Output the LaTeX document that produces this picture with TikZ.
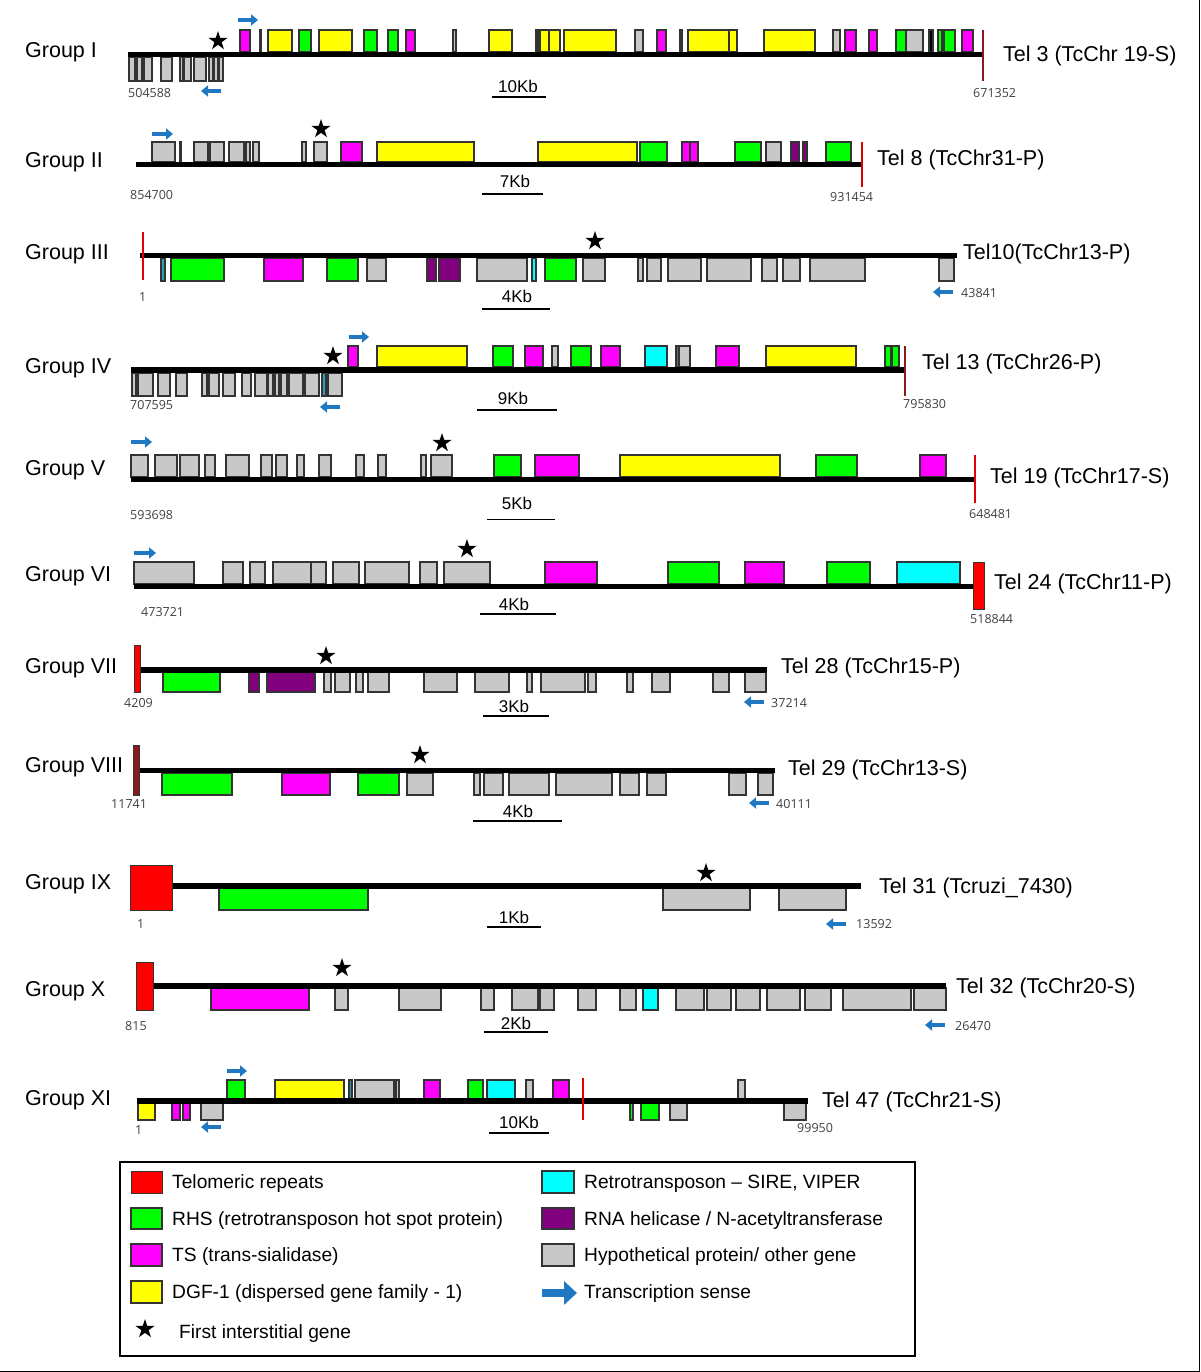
\documentclass[tikz,border=0pt]{standalone}
\usepackage{fontspec}
\setmainfont{Liberation Sans}
\newfontfamily\numfont{Open Sans}
\usetikzlibrary{arrows.meta,shapes.geometric}
\definecolor{telred}{HTML}{FF0000}
\definecolor{teldark}{HTML}{8B1A1A}
\definecolor{rhs}{HTML}{00FF00}
\definecolor{tsm}{HTML}{FF00FF}
\definecolor{dgf}{HTML}{FFFF00}
\definecolor{retro}{HTML}{00FFFF}
\definecolor{hel}{HTML}{800080}
\definecolor{hyp}{HTML}{C8C8C8}
\definecolor{dkg}{HTML}{2E6B2E}
\definecolor{tea}{HTML}{30A0B0}
\definecolor{senseblue}{HTML}{1F78C1}
\tikzset{
  chrom/.style={line width=5.5pt},
  gene/.style={draw=black!80, line width=1.1pt},
  telend/.style={line width=2pt},
  telbox/.style={draw=black!80, line width=1pt, fill=telred},
  grouplabel/.style={anchor=west, inner sep=0pt, yshift=-2pt, font=\fontsize{21.5}{24}\selectfont},
  tellabel/.style={anchor=west, inner sep=0pt, yshift=-2pt, font=\fontsize{21.5}{24}\selectfont},
  coordlabel/.style={anchor=west, inner sep=0pt, text=black!75, font=\numfont\fontsize{12.5}{14}\selectfont},
  kblabel/.style={inner sep=0pt, yshift=2pt, font=\fontsize{17}{20}\selectfont},
  kbbar/.style={line width=1.5pt},
  sense/.style={line width=4.5pt, draw=senseblue, -{Triangle[length=7pt,width=11pt]}},
  firststar/.style={star, star points=5, star point ratio=2.618, fill=black, inner sep=0pt, minimum size=20pt},
  legendtext/.style={anchor=west, inner sep=0pt, yshift=-2pt, font=\fontsize{19.2}{22}\selectfont}
}
\newcommand{\generow}[3]{\foreach \a/\b/\c in {#3} \draw[gene,fill=\c] (\a,#1) rectangle (\b,#2);}
\begin{document}
\begin{tikzpicture}[x=1pt,y=-1pt]
\useasboundingbox (0,0) rectangle (1200,1372);
\draw[line width=1pt] (1199,0) -- (1199,1371) -- (0,1371);

% Group I
\node[grouplabel] (g1) at (25,50) {Group I};
\generow{30}{52}{240/250/tsm, 259.5/261/hyp, 268/292/dgf, 299/311/rhs, 319/352/dgf, 364/377/rhs, 388/398/rhs, 406/415/tsm, 453/456/hyp, 489/512/dgf, 536/538/tsm, 540/550/dgf, 549/560/dgf, 564/616/dgf, 635/643/hyp, 657/666/tsm, 680/682/dkg, 688/729/dgf, 729/737/dgf, 764/815/dgf, 833/840/hyp, 845/856/tsm, 869/877/tsm, 896/906/rhs, 906/923/hyp, 929/933/black, 938/942/rhs, 944/955/rhs, 962/973/tsm}
\generow{57}{81}{129/135/hyp, 137/142/hyp, 144/152/hyp, 161/172/hyp, 180/183/hyp, 184/191/hyp, 194/206/hyp, 209/213/hyp, 214/218/hyp, 219/223/hyp}
\coordinate (c1a) at (128,54.5);
\coordinate (c1b) at (983,54.5);
\draw[chrom] (c1a) -- (c1b);
\draw[telend,teldark] (983,30) -- (983,81);
\node[tellabel] (t1) at (1003,54) {Tel 3 (TcChr 19-S)};
\node[coordlabel] (n1a) at (128,93) {504588};
\node[coordlabel] (n1b) at (973,93) {671352};
\node[kblabel] (k1) at (518,88) {10Kb};
\draw[kbbar] (492,97) -- (546,97);
\draw[sense] (238,20) -- (258,20);
\draw[sense] (221,91) -- (201,91);
\node[firststar] (s1) at (218,41) {};

% Group II
\node[grouplabel] (g2) at (25,160) {Group II};
\generow{142}{162}{152/175/hyp, 180/181/hyp, 194/208/hyp, 210/224/hyp, 229/244/hyp, 246/250/hyp, 253/259/hyp, 302/306/hyp, 314/327/hyp, 341/362/tsm, 377/474/dgf, 538/637/dgf, 640/667/rhs, 682/690/tsm, 690/698/tsm, 735/761/rhs, 766/781/hyp, 791/799/hel, 803/807/hel, 826/851/rhs}
\coordinate (c2a) at (136,164.5);
\coordinate (c2b) at (862,164.5);
\draw[chrom] (c2a) -- (c2b);
\draw[telend,telred!85!black] (862,142) -- (862,187);
\node[tellabel] (t2) at (877,158) {Tel 8 (TcChr31-P)};
\node[coordlabel] (n2a) at (130,195) {854700};
\node[coordlabel] (n2b) at (830,197) {931454};
\node[kblabel] (k2) at (515,183) {7Kb};
\draw[kbbar] (482,194) -- (543,194);
\draw[sense] (152,134) -- (173,134);
\node[firststar] (s2) at (321,129) {};

% Group III
\node[grouplabel] (g3) at (25,252) {Group III};
\generow{258}{281}{161/165/tea, 171/224/rhs, 264/303/tsm, 327/358/rhs, 367/386/hyp, 427/436/hel, 439/460/hel, 477/527/hyp, 532/536/retro, 545/576/rhs, 583/605/hyp, 638/643/hyp, 647/661/hyp, 668/701/hyp, 707/751/hyp, 762/777/hyp, 783/800/hyp, 810/865/hyp, 939/954/hyp}
\coordinate (c3a) at (140,255.5);
\coordinate (c3b) at (957,255.5);
\draw[chrom] (c3a) -- (c3b);
\draw[telend,telred!90!black] (143,232) -- (143,280);
\node[tellabel] (t3) at (963,252) {Tel10(TcChr13-P)};
\node[coordlabel] (n3a) at (139,297) {1};
\node[coordlabel] (n3b) at (961,293) {43841};
\node[kblabel] (k3) at (517,298) {4Kb};
\draw[kbbar] (482,309) -- (550,309);
\draw[sense] (953,292) -- (933,292);
\node[firststar] (s3) at (595,241) {};

% Group IV
\node[grouplabel] (g4) at (25,366) {Group IV};
\generow{346}{367}{348/358/tsm, 377/467/dgf, 493/513/rhs, 525/543/tsm, 552/558/hyp, 571/591/rhs, 601/620/tsm, 645/667/retro, 676/679/black!60, 679/690/hyp, 716/739/tsm, 766/856/dgf, 885/891/rhs, 892/899/rhs}
\generow{373}{396}{132/136/hyp, 138/153/hyp, 158/170/hyp, 176/187/hyp, 202/207/hyp, 209/219/hyp, 223/235/hyp, 242/251/hyp, 255/267/hyp, 268/273/hyp, 275/279/hyp, 281/287/hyp, 289/303/hyp, 305/319/hyp, 322/326/tea, 328/342/hyp}
\coordinate (c4a) at (131,370);
\coordinate (c4b) at (905,370);
\draw[chrom] (c4a) -- (c4b);
\draw[telend,teldark] (905,346) -- (905,396);
\node[tellabel] (t4) at (922,362) {Tel 13 (TcChr26-P)};
\node[coordlabel] (n4a) at (130,405) {707595};
\node[coordlabel] (n4b) at (903,404) {795830};
\node[kblabel] (k4) at (513,400) {9Kb};
\draw[kbbar] (477,410) -- (557,410);
\draw[sense] (349,337) -- (369,337);
\draw[sense] (340,407) -- (320,407);
\node[firststar] (s4) at (333,356) {};

% Group V
\node[grouplabel] (g5) at (25,468) {Group V};
\generow{455}{477}{131/148/hyp, 155/177/hyp, 180/199/hyp, 205/215/hyp, 226/249/hyp, 261/272/hyp, 276/287/hyp, 297/304/hyp, 319/331/hyp, 356/364/hyp, 378/386/hyp, 421/426/hyp, 431/452/hyp, 494/521/rhs, 535/579/tsm, 620/780/dgf, 816/857/rhs, 920/946/tsm}
\coordinate (c5a) at (131,479.5);
\coordinate (c5b) at (975,479.5);
\draw[chrom] (c5a) -- (c5b);
\draw[telend,telred!90!black] (975,455) -- (975,503);
\node[tellabel] (t5) at (990,476) {Tel 19 (TcChr17-S)};
\node[coordlabel] (n5a) at (130,515) {593698};
\node[coordlabel] (n5b) at (969,514) {648481};
\node[kblabel] (k5) at (517,505) {5Kb};
\draw[line width=1pt] (487,519) -- (555,519);
\draw[sense] (131,442) -- (152,442);
\node[firststar] (s5) at (442,443) {};

% Group VI
\node[grouplabel] (g6) at (25,574) {Group VI};
\generow{562}{584}{134/194/hyp, 223/243/hyp, 250/265/hyp, 273/311/hyp, 311/326/hyp, 333/359/hyp, 365/409/hyp, 420/437/hyp, 444/490/hyp, 545/597/tsm, 668/719/rhs, 745/784/tsm, 827/870/rhs, 897/960/retro}
\coordinate (c6a) at (134,586.5);
\coordinate (c6b) at (973,586.5);
\draw[chrom] (c6a) -- (c6b);
\draw[telbox] (973,562) rectangle (984,609);
\node[tellabel] (t6) at (994,582) {Tel 24 (TcChr11-P)};
\node[coordlabel] (n6a) at (141,612) {473721};
\node[coordlabel] (n6b) at (970,619) {518844};
\node[kblabel] (k6) at (514,606) {4Kb};
\draw[kbbar] (480,614) -- (556,614);
\draw[sense] (134,553) -- (156,553);
\node[firststar] (s6) at (467,549) {};

% Group VII
\node[grouplabel] (g7) at (25,666) {Group VII};
\generow{672}{692}{163/220/rhs, 249/259/hel, 267/315/hel, 324/331/hyp, 335/350/hyp, 356/363/hyp, 368/389/hyp, 424/457/hyp, 475/509/hyp, 527/532/hyp, 541/585/hyp, 588/596/hyp, 627/633/hyp, 652/670/hyp, 713/729/hyp, 745/766/hyp}
\coordinate (c7a) at (137,670);
\coordinate (c7b) at (767,670);
\draw[chrom] (c7a) -- (c7b);
\draw[telbox] (134,645) rectangle (140,692);
\node[tellabel] (t7) at (781,666) {Tel 28 (TcChr15-P)};
\node[coordlabel] (n7a) at (124,703) {4209};
\node[coordlabel] (n7b) at (771,703) {37214};
\node[kblabel] (k7) at (514,708) {3Kb};
\draw[kbbar] (483,716) -- (549,716);
\draw[sense] (764,702) -- (744,702);
\node[firststar] (s7) at (326,656) {};

% Group VIII
\node[grouplabel] (g8) at (25,765) {Group VIII};
\generow{773}{795}{162/232/rhs, 282/330/tsm, 358/399/rhs, 407/433/hyp, 474/480/hyp, 484/503/hyp, 509/549/hyp, 556/612/hyp, 620/639/hyp, 647/666/hyp, 729/746/hyp, 758/773/hyp}
\coordinate (c8a) at (135,770.5);
\coordinate (c8b) at (775,770.5);
\draw[chrom] (c8a) -- (c8b);
\draw[telbox,fill=teldark] (133,745) rectangle (139,795);
\node[tellabel] (t8) at (788,768) {Tel 29 (TcChr13-S)};
\node[coordlabel] (n8a) at (111,804) {11741};
\node[coordlabel] (n8b) at (776,804) {40111};
\node[kblabel] (k8) at (518,813) {4Kb};
\draw[kbbar] (473,821) -- (562,821);
\draw[sense] (769,803) -- (749,803);
\node[firststar] (s8) at (420,755) {};

% Group IX
\node[grouplabel] (g9) at (25,882) {Group IX};
\generow{888}{910}{219/368/rhs, 663/750/hyp, 779/846/hyp}
\coordinate (c9a) at (130,886);
\coordinate (c9b) at (861,886);
\draw[chrom] (c9a) -- (c9b);
\draw[telbox] (130,865) rectangle (172,910);
\node[tellabel] (t9) at (879,886) {Tel 31 (Tcruzi\_7430)};
\node[coordlabel] (n9a) at (137,924) {1};
\node[coordlabel] (n9b) at (856,924) {13592};
\node[kblabel] (k9) at (514,919) {1Kb};
\draw[kbbar] (487,927) -- (541,927);
\draw[sense] (846,924) -- (826,924);
\node[firststar] (s9) at (706,873) {};

% Group X
\node[grouplabel] (g10) at (25,989) {Group X};
\generow{988}{1010}{211/309/tsm, 335/348/hyp, 399/441/hyp, 481/494/hyp, 512/538/hyp, 540/554/hyp, 578/596/hyp, 620/636/hyp, 643/658/retro, 676/704/hyp, 707/731/hyp, 736/760/hyp, 767/800/hyp, 805/831/hyp, 843/911/hyp, 914/946/hyp}
\coordinate (c10a) at (137,986);
\coordinate (c10b) at (946,986);
\draw[chrom] (c10a) -- (c10b);
\draw[telbox] (136,962) rectangle (153,1010);
\node[tellabel] (t10) at (956,986) {Tel 32 (TcChr20-S)};
\node[coordlabel] (n10a) at (125,1026) {815};
\node[coordlabel] (n10b) at (955,1026) {26470};
\node[kblabel] (k10) at (516,1025) {2Kb};
\draw[kbbar] (484,1032) -- (548,1032);
\draw[sense] (945,1025) -- (925,1025);
\node[firststar] (s10) at (342,968) {};

% Group XI
\node[grouplabel] (g11) at (25,1098) {Group XI};
\generow{1080}{1099}{227/245/rhs, 275/344/dgf, 349/352/tea, 355/394/hyp, 396/399/hyp, 424/440/tsm, 468/483/rhs, 487/515/retro, 526/533/hyp, 553/569/tsm, 738/745/hyp}
\generow{1103}{1120}{138/155/dgf, 172/180/tsm, 183/190/tsm, 201/223/hyp, 630/633/rhs, 641/659/rhs, 670/687/hyp, 784/806/hyp}
\coordinate (c11a) at (137,1101);
\coordinate (c11b) at (808,1101);
\draw[chrom] (c11a) -- (c11b);
\draw[telend,telred!90!black] (583,1078) -- (583,1120);
\node[tellabel] (t11) at (822,1100) {Tel 47 (TcChr21-S)};
\node[coordlabel] (n11a) at (135,1130) {1};
\node[coordlabel] (n11b) at (797,1128) {99950};
\node[kblabel] (k11) at (519,1124) {10Kb};
\draw[kbbar] (489,1133) -- (549,1133);
\draw[sense] (227,1071) -- (247,1071);
\draw[sense] (221,1127) -- (201,1127);

% legend
\draw[line width=1.8pt] (120,1162) rectangle (915,1356);
\draw[telbox] (131,1171) rectangle (162,1193);
\node[legendtext] (l1) at (172,1182) {Telomeric repeats};
\draw[gene,fill=rhs] (131,1208) rectangle (162,1229);
\node[legendtext] (l2) at (172,1219) {RHS (retrotransposon hot spot protein)};
\draw[gene,fill=tsm] (131,1244) rectangle (162,1266);
\node[legendtext] (l3) at (172,1255) {TS (trans-sialidase)};
\draw[gene,fill=dgf] (131,1281) rectangle (162,1303);
\node[legendtext] (l4) at (172,1292) {DGF-1 (dispersed gene family - 1)};
\node[firststar] (l5s) at (145,1329) {};
\node[legendtext] (l5) at (179,1332) {First interstitial gene};
\draw[gene,fill=retro] (542,1171) rectangle (574,1193);
\node[legendtext] (l6) at (584,1182) {Retrotransposon – SIRE, VIPER};
\draw[gene,fill=hel] (542,1208) rectangle (574,1229);
\node[legendtext] (l7) at (584,1219) {RNA helicase / N-acetyltransferase};
\draw[gene,fill=hyp] (542,1244) rectangle (574,1266);
\node[legendtext] (l8) at (584,1255) {Hypothetical protein/ other gene};
\draw[line width=8pt, senseblue, -{Triangle[length=13pt,width=23pt]}] (542,1293) -- (577,1293);
\node[legendtext] (l9) at (584,1292) {Transcription sense};
\end{tikzpicture}
\end{document}
